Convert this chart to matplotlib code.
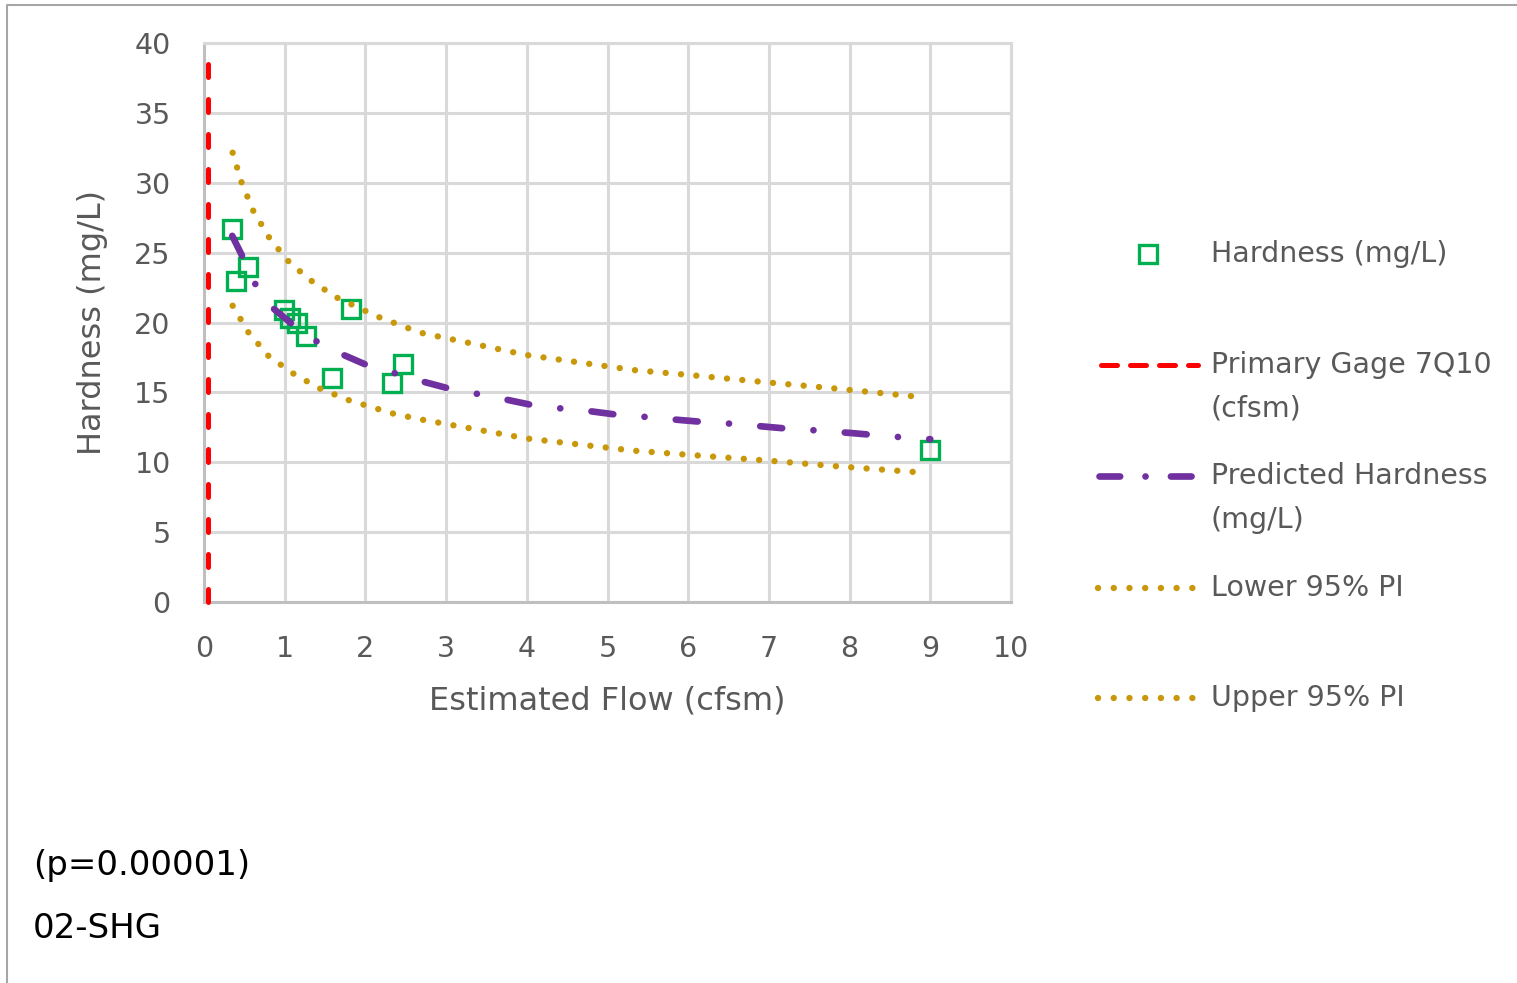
import matplotlib
matplotlib.use("Agg")
from matplotlib import pyplot as plt
from matplotlib.lines import Line2D

# observed hardness vs estimated flow
obs_flow = [0.35, 0.55, 0.40, 0.99, 1.06, 1.15, 1.26, 1.82, 1.59, 2.33, 2.47, 9.0]
obs_hard = [26.7, 24.0, 23.0, 20.9, 20.3, 20.0, 19.0, 21.0, 16.0, 15.7, 17.0, 10.9]

# primary gage 7Q10
gage_flow = [0.05, 0.05]
gage_hard = [0, 40]

# fitted curve
pred_flow = [0.35, 0.47, 0.64, 0.86, 1.11, 1.42, 1.72, 2.0, 2.72, 3.02, 3.38, 3.73, 4.06,
             4.41, 4.76, 5.12, 5.44, 5.80, 6.15, 6.48, 6.85, 7.18, 7.53, 8.0, 8.5, 9.0]
pred_hard = [26.2, 24.8, 22.7, 21.0, 19.8, 18.55, 17.7, 17.0, 15.76, 15.3, 14.9, 14.5, 14.1,
             13.86, 13.67, 13.4, 13.26, 13.07, 12.9, 12.78, 12.6, 12.43, 12.3, 12.1, 11.85, 11.65]

# prediction interval bounds
lower_flow = [0.355, 0.55, 0.80, 1.10, 1.425, 1.79, 2.33, 2.68, 4.0, 5.32, 6.08, 7.03, 7.8, 8.93]
lower_hard = [21.2, 19.3, 17.6, 16.37, 15.3, 14.45, 13.5, 13.07, 11.7, 10.83, 10.5, 10.1, 9.73, 9.25]
upper_flow = [0.355, 0.467, 0.61, 0.805, 1.03, 1.3, 1.64, 2.16, 2.68, 4.0, 5.32, 6.02, 7.01, 7.78, 8.91]
upper_hard = [32.15, 30.0, 28.0, 26.1, 24.47, 23.1, 21.8, 20.4, 19.27, 17.67, 16.6, 16.24, 15.7, 15.3, 14.65]

x_ticks = list(range(0, 11))
y_ticks = list(range(0, 41, 5))

labels = ["Hardness (mg/L)", "Primary Gage 7Q10\n(cfsm)", "Predicted Hardness\n(mg/L)",
          "Lower 95% PI", "Upper 95% PI"]

GREEN = "#00b050"
RED = "#ff0000"
PURPLE = "#7030a0"
GOLD = "#c9980a"
TXT = "#595959"
GRID = "#d9d9d9"

plt.rcParams["font.family"] = ["DejaVu Sans"]
TICK_FS = 20.5
TITLE_FS = 23
LEG_FS = 20.5
NOTE_FS = 24.5

W, H = 1517, 983
fig = plt.figure(figsize=(W / 100, H / 100), dpi=100)

# outer frame (right and bottom edges fall outside the image)
frame = fig.add_axes([0, 0, 1, 1])
frame.set_xlim(0, W)
frame.set_ylim(H, 0)
frame.axis("off")
frame.plot([7, 7, W + 5], [H + 5, 5, 5], color="#a6a6a6", lw=1.5)

ax = fig.add_axes([204 / W, 1 - 602 / H, 807 / W, 559 / H])
ax.set_xlim(0, 10)
ax.set_ylim(0, 40)
ax.set_xticks(x_ticks)
ax.set_yticks(y_ticks)
ax.grid(True, color=GRID, lw=2.2)
ax.set_axisbelow(True)
for s in ax.spines.values():
    s.set_color(GRID)
    s.set_linewidth(2.2)
ax.spines["left"].set_color("#bfbfbf")
ax.spines["bottom"].set_color("#bfbfbf")
ax.tick_params(length=0, labelsize=TICK_FS, labelcolor=TXT)
ax.tick_params(axis="y", pad=24)
ax.tick_params(axis="x", pad=24)
ax.set_xlabel("Estimated Flow (cfsm)", fontsize=TITLE_FS, color=TXT, labelpad=16)
ax.set_ylabel("Hardness (mg/L)", fontsize=TITLE_FS, color=TXT, labelpad=19)

pts, = ax.plot(obs_flow, obs_hard, ls="none", marker="s", ms=13.5, mfc="none",
               mec=GREEN, mew=2.4, zorder=3)
gage, = ax.plot(gage_flow, gage_hard, color=RED, lw=3.6, dashes=(2.6, 4.4),
                dash_capstyle="round", zorder=4, clip_on=False)
pred, = ax.plot(pred_flow, pred_hard, color=PURPLE, lw=4.8, dashes=(3.3, 4.7, 0.01, 4.7),
                dash_capstyle="round", zorder=4)
low, = ax.plot(lower_flow, lower_hard, color=GOLD, lw=4.6, dashes=(0.01, 2.4),
               dash_capstyle="round", zorder=5)
up, = ax.plot(upper_flow, upper_hard, color=GOLD, lw=4.6, dashes=(0.01, 2.4),
              dash_capstyle="round", zorder=5)

# legend drawn on the frame in pixel units
rows = [254, 365, 476, 588, 698]
frame.add_line(Line2D([1148], [rows[0]], ls="none", marker="s", ms=12.5, mfc="none",
                      mec=GREEN, mew=2.4))
frame.add_line(Line2D([1101, 1198], [rows[1]] * 2, color=RED, lw=3.6,
                      dashes=(3.2, 2.6), dash_capstyle="round"))
frame.add_line(Line2D([1099, 1202], [rows[2]] * 2, color=PURPLE, lw=4.8,
                      dashes=(3.1, 3.8, 0.01, 3.8), dash_capstyle="round"))
for r in rows[3:]:
    frame.add_line(Line2D([1098, 1194], [r] * 2, color=GOLD, lw=4.6,
                          dashes=(0.01, 2.45), dash_capstyle="round"))
for r, lab in zip(rows, labels):
    for k, line in enumerate(lab.split("\n")):
        frame.text(1211, r + 44 * k, line, fontsize=LEG_FS, color=TXT, va="center", ha="left")

frame.text(33, 865, "(p=0.00001)", fontsize=NOTE_FS, color="black", va="center", ha="left")
frame.text(33, 928, "02-SHG", fontsize=NOTE_FS, color="black", va="center", ha="left")

fig.savefig("out.png", dpi=100)
